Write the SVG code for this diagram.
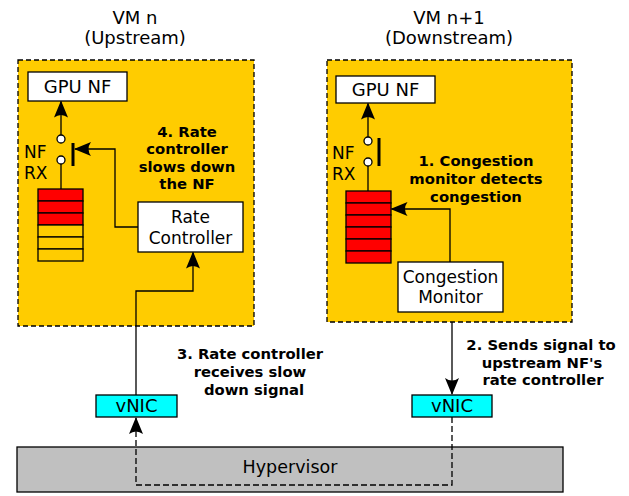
<svg xmlns="http://www.w3.org/2000/svg" width="629" height="496" viewBox="0 0 629 496">
<style>
text{font-family:"DejaVu Sans",sans-serif;fill:#000}
.t{font-size:18px;text-anchor:middle}
.n{font-size:17px;text-anchor:middle}
.lab{font-size:17px}
.b{font-size:14.8px;font-weight:bold;text-anchor:middle}
.vm{fill:#ffcc00;stroke:#000;stroke-width:1.3;stroke-dasharray:5,3}
.box{fill:#fff;stroke:#000;stroke-width:1.3}
.nic{fill:#00ffff;stroke:#000;stroke-width:1.3}
.red{fill:#ff0000;stroke:#000;stroke-width:1.3}
.yel{fill:#ffcc00;stroke:#000;stroke-width:1.3}
.ln{fill:none;stroke:#000;stroke-width:1.3}
.dash{fill:none;stroke:#000;stroke-width:1.3;stroke-dasharray:6,3}
.sw{fill:#fff;stroke:#000;stroke-width:1.3}
.bar{stroke:#000;stroke-width:3}
</style>
<defs>
<marker id="ah" viewBox="0 0 17 14" refX="16" refY="7" markerWidth="17" markerHeight="14" markerUnits="userSpaceOnUse" orient="auto">
<path d="M0,0 L17,7 L0,14 Q5,7 0,0 Z" fill="#000"/>
</marker>
</defs>
<text class="t" x="135" y="24">VM n</text>
<text class="t" x="135" y="44">(Upstream)</text>
<text class="t" x="449" y="24">VM n+1</text>
<text class="t" x="449" y="44">(Downstream)</text>
<g id="vm-upstream"><rect class="vm" x="18" y="60" width="236" height="266"/></g>
<g id="vm-downstream"><rect class="vm" x="327" y="60" width="245" height="262"/></g>
<g id="hypervisor"><rect x="17" y="447" width="546" height="45" fill="#c0c0c0" stroke="#000" stroke-width="1.3"/><text x="290" y="473" font-size="17.5" text-anchor="middle">Hypervisor</text></g>
<g id="gpu-nf-left"><rect class="box" x="28" y="72" width="99" height="29"/><text class="t" x="77.5" y="93">GPU NF</text></g>
<g id="gpu-nf-right"><rect class="box" x="336" y="76" width="99" height="27"/><text class="t" x="385.5" y="96">GPU NF</text></g>
<g id="nf-rx-left">
<text class="lab" x="24" y="158">NF</text><text class="lab" x="24" y="179">RX</text>
<circle class="sw" cx="61" cy="139" r="4"/><circle class="sw" cx="61" cy="160" r="4"/>
<line class="bar" x1="73" y1="143" x2="73" y2="166"/>
</g>
<g id="queue-left">
<rect class="red" x="38" y="189" width="45" height="12"/><rect class="red" x="38" y="201" width="45" height="12"/><rect class="red" x="38" y="213" width="45" height="12"/>
<rect class="yel" x="38" y="225" width="45" height="12"/><rect class="yel" x="38" y="237" width="45" height="12"/><rect class="yel" x="38" y="249" width="45" height="12"/>
</g>
<g id="rate-controller"><rect class="box" x="138" y="202" width="105" height="50"/><text class="n" x="190.5" y="223">Rate</text><text class="n" x="190.5" y="244">Controller</text></g>
<g id="nf-rx-right">
<text class="lab" x="332" y="159">NF</text><text class="lab" x="332" y="180">RX</text>
<circle class="sw" cx="368" cy="141" r="4"/><circle class="sw" cx="368" cy="162" r="4"/>
<line class="bar" x1="379" y1="138" x2="379" y2="166"/>
</g>
<g id="queue-right">
<rect class="red" x="346" y="191" width="45" height="12"/><rect class="red" x="346" y="203" width="45" height="12"/><rect class="red" x="346" y="215" width="45" height="12"/>
<rect class="red" x="346" y="227" width="45" height="12"/><rect class="red" x="346" y="239" width="45" height="12"/><rect class="red" x="346" y="251" width="45" height="12"/>
</g>
<g id="congestion-monitor"><rect class="box" x="398" y="262" width="105" height="50"/><text class="n" x="450.5" y="283">Congestion</text><text class="n" x="450.5" y="303">Monitor</text></g>
<g id="vnic-left"><rect class="nic" x="96" y="395" width="81" height="22"/><text class="t" x="136.5" y="412">vNIC</text></g>
<g id="vnic-right"><rect class="nic" x="412" y="395" width="80" height="22"/><text class="t" x="452" y="412">vNIC</text></g>
<g id="connectors">
<line class="ln" x1="61" y1="135" x2="61" y2="101.5" marker-end="url(#ah)"/>
<line class="ln" x1="61" y1="164" x2="61" y2="189"/>
<polyline class="ln" points="138,227 115,227 115,149 75,149" marker-end="url(#ah)"/>
<polyline class="ln" points="136,395 136,291 193,291 193,252.5" marker-end="url(#ah)"/>
<line class="ln" x1="368" y1="137" x2="368" y2="103.5" marker-end="url(#ah)"/>
<line class="ln" x1="368" y1="166" x2="368" y2="191"/>
<polyline class="ln" points="450,262 450,209 391.5,209" marker-end="url(#ah)"/>
<line class="ln" x1="452" y1="322" x2="452" y2="394" marker-end="url(#ah)"/>
<polyline class="dash" points="452,417 452,485 136,485 136,418" marker-end="url(#ah)"/>
</g>
<g id="labels">
<text class="b" x="187" y="137">4. Rate</text>
<text class="b" x="187" y="154">controller</text>
<text class="b" x="187" y="172">slows down</text>
<text class="b" x="187" y="189">the NF</text>
<text class="b" x="476" y="166">1. Congestion</text>
<text class="b" x="476" y="184">monitor detects</text>
<text class="b" x="476" y="202">congestion</text>
<text class="b" x="250" y="359">3. Rate controller</text>
<text class="b" x="250" y="377">receives slow</text>
<text class="b" x="254" y="395">down signal</text>
<text class="b" x="541" y="350">2. Sends signal to</text>
<text class="b" x="542" y="368">upstream NF's</text>
<text class="b" x="543" y="385">rate controller</text>
</g>
</svg>
